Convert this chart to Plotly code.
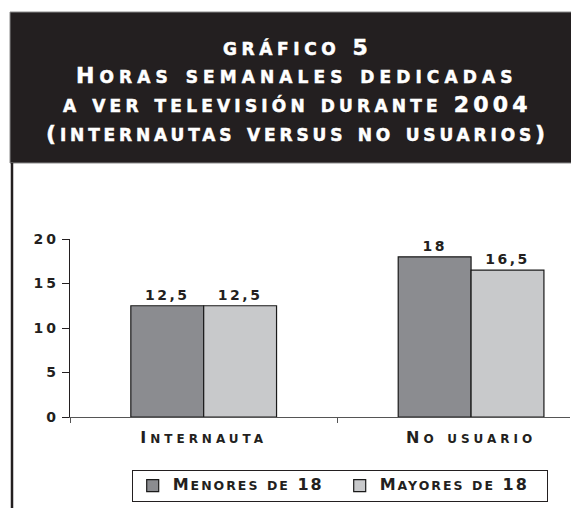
import plotly.graph_objects as go

categories = ["Internauta", "No usuario"]
series_names = ["Menores de 18", "Mayores de 18"]
menores = [12.5, 18]
mayores = [12.5, 16.5]
series_values = [menores, mayores]
series_colors = ["#8b8c90", "#c8c9cb"]
y_ticks = [0, 5, 10, 15, 20]
title_lines = ["gráfico 5", "Horas semanales dedicadas",
               "a ver televisión durante 2004", "(internautas versus no usuarios)"]

FONT = "DejaVu Sans"
OFF = 8                      # page body margin
W, H = 579 - OFF, 508 - OFF
L, R, T, B = 70, 570, 239, 417   # plot area in reference (page) pixels


def px(x):
    return (x - L) / (R - L)


def py(y):
    return (B - y) / (B - T)


def ls(s, sp):
    return f"<span style='letter-spacing:{sp}px'>{s}</span>"


def sc(text, big, small, sp, extra=""):
    """Small caps: lowercase letters drawn as smaller capitals."""
    runs = []
    for ch in text:
        kind = "s" if ch.islower() else "b"
        if runs and runs[-1][0] == kind:
            runs[-1][1] += ch
        else:
            runs.append([kind, ch])
    out = ""
    for kind, s in runs:
        size = small if kind == "s" else big
        out += (f"<span style='font-size:{size}px;letter-spacing:{sp}px;{extra}'>"
                f"{s.upper()}</span>")
    return out


def fmt(v):
    s = f"{v:g}"
    return s.replace(".", ",")


fig = go.Figure()
for name, vals, col in zip(series_names, series_values, series_colors):
    fig.add_trace(go.Bar(
        x=categories, y=vals, name=sc(name, 16, 12.5, 2.0),
        marker=dict(color=col, line=dict(color="#1a1a1a", width=1.2)),
        text=[ls(fmt(v), 2.5) for v in vals], textposition="outside",
        textfont=dict(family=FONT, size=14, color="#231f20", weight="bold"),
        cliponaxis=False,
    ))

# header box
fig.add_shape(type="rect", xref="paper", yref="paper",
              x0=px(10), x1=px(590), y0=py(163), y1=py(12),
              fillcolor="#231f20", line=dict(color="#8a8a8a", width=1), layer="above")
# left frame line
fig.add_shape(type="line", xref="paper", yref="paper",
              x0=px(12), x1=px(12), y0=py(163), y1=py(515),
              line=dict(color="#231f20", width=2.5))

title_y = [47, 75, 104, 133]
title_sp = [4.6, 5.1, 4.2, 3.85]
for t, yc, sp in zip(title_lines, title_y, title_sp):
    fig.add_annotation(text=sc(t, 22, 17, sp, "stroke:white;stroke-width:0.5px"),
                       xref="paper", yref="paper",
                       x=px(297), y=py(yc), xanchor="center", yanchor="middle",
                       showarrow=False,
                       font=dict(family=FONT, size=22, color="white", weight="bold"))

fig.update_layout(
    width=W, height=H,
    margin=dict(l=L - OFF, r=W - (R - OFF), t=T - OFF, b=H - (B - OFF), pad=0,
                autoexpand=False),
    paper_bgcolor="white", plot_bgcolor="white",
    barmode="group", bargap=0.455, bargroupgap=0,
    showlegend=True,
    legend=dict(orientation="h", x=px(340), xanchor="center", y=py(486), yanchor="middle",
                bordercolor="#231f20", borderwidth=1.2, entrywidth=162,
                font=dict(family=FONT, size=12, color="#231f20", weight="bold"),
                traceorder="normal"),
    xaxis=dict(range=[-0.5, 1.37], showline=True, linecolor="#555555", linewidth=1,
               ticks="outside", tickson="boundaries", ticklen=5, tickcolor="#555555",
               tickvals=categories, ticktext=[sc(c, 16, 12, 4.0) for c in categories],
               tickfont=dict(family=FONT, size=16, color="#231f20", weight="bold"),
               ticklabelstandoff=6,
               showgrid=False, zeroline=False, fixedrange=True),
    yaxis=dict(range=[0, 20], showline=True, linecolor="#231f20", linewidth=1.2,
               ticks="outside", ticklen=7, tickcolor="#231f20",
               tickvals=y_ticks, ticktext=[ls(str(v), 3) for v in y_ticks],
               tickfont=dict(family=FONT, size=14, color="#231f20", weight="bold"),
               showgrid=False, zeroline=False, fixedrange=True),
)

fig.write_html("out.html")
